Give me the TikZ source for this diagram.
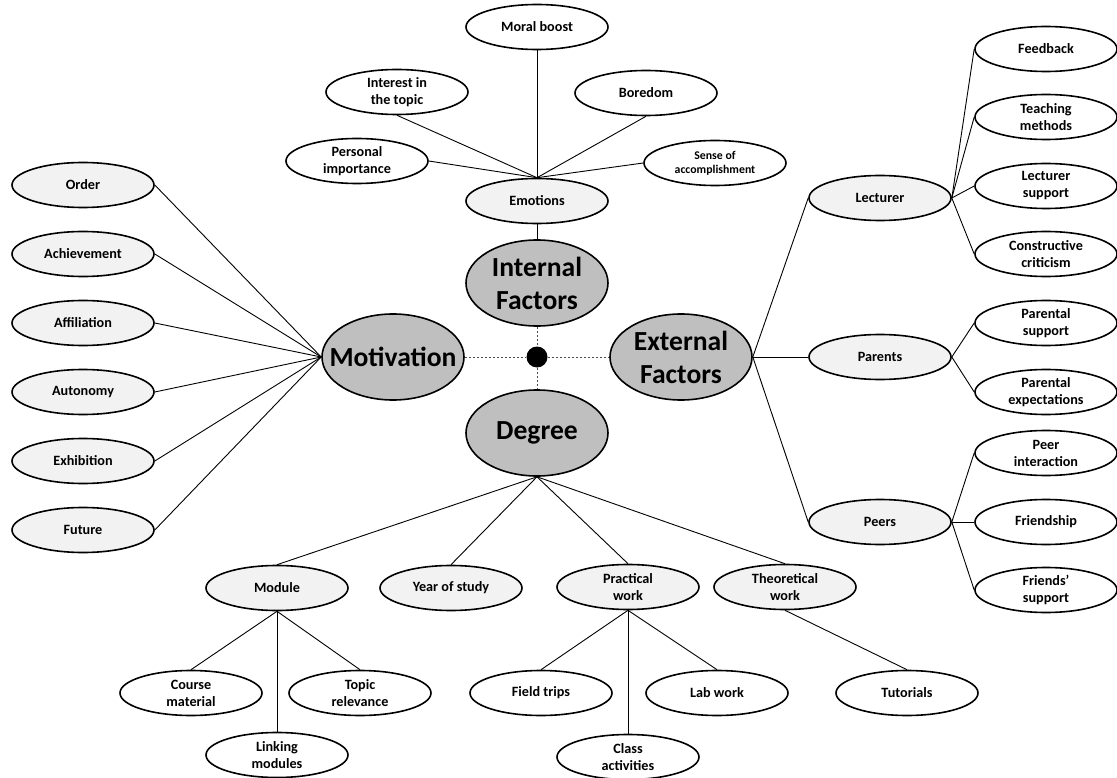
\documentclass[tikz,border=0pt]{standalone}
\usepackage{fontspec}
\setmainfont{Carlito}
\usetikzlibrary{shapes.geometric}
\definecolor{midgray}{HTML}{BFBFBF}
\definecolor{lightgray}{HTML}{F2F2F2}
\begin{document}
\begin{tikzpicture}[x=1pt,y=-1pt,
  base/.style={ellipse,draw=black,line width=1.6pt,inner sep=0pt,align=center,
    minimum width=142pt,minimum height=45pt,font=\bfseries\fontsize{14.2}{17}\selectfont},
  leaf/.style={base,fill=white},
  mid/.style={base,fill=lightgray},
  small/.style={font=\bfseries\fontsize{11.8}{14}\selectfont},
  core/.style={base,fill=midgray,minimum height=86pt,inner xsep=-25pt,
    font=\bfseries\fontsize{27.6}{33}\selectfont},
  conn/.style={line width=0.9pt,black},
  dashline/.style={line width=0.9pt,gray!60!black,dash pattern=on 2.5pt off 1.5pt}
]
\useasboundingbox (0,0) rectangle (1117,778);

% core
\node[core] (int) at (537,283) {Internal\\Factors};
\node[core] (mot) at (393,357) {Motivation};
\node[core] (ext) at (681,357) {External\\Factors};
\node[core] (deg) at (537,433) {Degree};
\node[circle,fill=black,inner sep=0pt,minimum size=21pt] (dot) at (537,357) {};

\draw[dashline] (mot.east) -- (dot);
\draw[dashline] (dot) -- (ext.west);
\draw[dashline] (int.south) -- (dot);
\draw[dashline] (dot) -- (deg.north);

% top
\node[mid] (emo) at (537,201) {Emotions};
\node[leaf] (moral) at (537,27) {Moral boost};
\node[leaf] (inter) at (397,92) {Interest in\\the topic};
\node[leaf] (bore) at (646,93) {Boredom};
\node[leaf] (pers) at (357,161) {Personal\\importance};
\node[leaf,small] (sense) at (715,163) {Sense of\\accomplishment};
\draw[conn] (emo.south) -- (int.north);
\draw[conn] (moral.south) -- (emo.north);
\draw[conn] (inter.south) -- (emo.north);
\draw[conn] (bore.south) -- (emo.north);
\draw[conn] (pers.east) -- (emo.north);
\draw[conn] (sense.west) -- (emo.north);

% left
\node[mid] (order) at (83,185) {Order};
\node[mid] (ach) at (83,254) {Achievement};
\node[mid] (aff) at (83,323) {Affiliation};
\node[mid] (aut) at (83,392) {Autonomy};
\node[mid] (exh) at (83,461) {Exhibition};
\node[mid] (fut) at (83,530) {Future};
\foreach \n in {order,ach,aff,aut,exh,fut}
  \draw[conn] (\n.east) -- (mot.west);

% right
\node[mid] (lect) at (880,198) {Lecturer};
\node[mid] (par) at (880,357) {Parents};
\node[mid] (peer) at (880,522) {Peers};
\foreach \n in {lect,par,peer}
  \draw[conn] (ext.east) -- (\n.west);

\node[leaf] (feed) at (1046,49) {Feedback};
\node[leaf] (teach) at (1046,117) {Teaching\\methods};
\node[leaf] (lsup) at (1046,186) {Lecturer\\support};
\node[leaf] (crit) at (1046,254) {Constructive\\criticism};
\foreach \n in {feed,teach,lsup,crit}
  \draw[conn] (lect.east) -- (\n.west);

\node[leaf] (psup) at (1046,323) {Parental\\support};
\node[leaf] (pexp) at (1046,392) {Parental\\expectations};
\foreach \n in {psup,pexp}
  \draw[conn] (par.east) -- (\n.west);

\node[leaf] (pint) at (1046,453) {Peer\\interaction};
\node[leaf] (fri) at (1046,522) {Friendship};
\node[leaf] (fsup) at (1046,590) {Friends’\\support};
\foreach \n in {pint,fri,fsup}
  \draw[conn] (peer.east) -- (\n.west);

% bottom
\node[mid] (mod) at (277,588) {Module};
\node[mid] (year) at (451,588) {Year of study};
\node[mid] (prac) at (628,587) {Practical\\work};
\node[mid] (theo) at (785,587) {Theoretical\\work};
\foreach \n in {mod,year,prac,theo}
  \draw[conn] (deg.south) -- (\n.north);

\node[leaf] (course) at (191,693) {Course\\material};
\node[leaf] (topic) at (360,693) {Topic\\relevance};
\node[leaf] (link) at (277,755) {Linking\\modules};
\foreach \n in {course,topic,link}
  \draw[conn] (mod.south) -- (\n.north);

\node[leaf] (field) at (541,693) {Field trips};
\node[leaf] (lab) at (717,693) {Lab work};
\node[leaf] (class) at (628,757) {Class\\activities};
\foreach \n in {field,lab,class}
  \draw[conn] (prac.south) -- (\n.north);

\node[leaf] (tut) at (907,693) {Tutorials};
\draw[conn] (theo.south) -- (tut.north);
\end{tikzpicture}
\end{document}
